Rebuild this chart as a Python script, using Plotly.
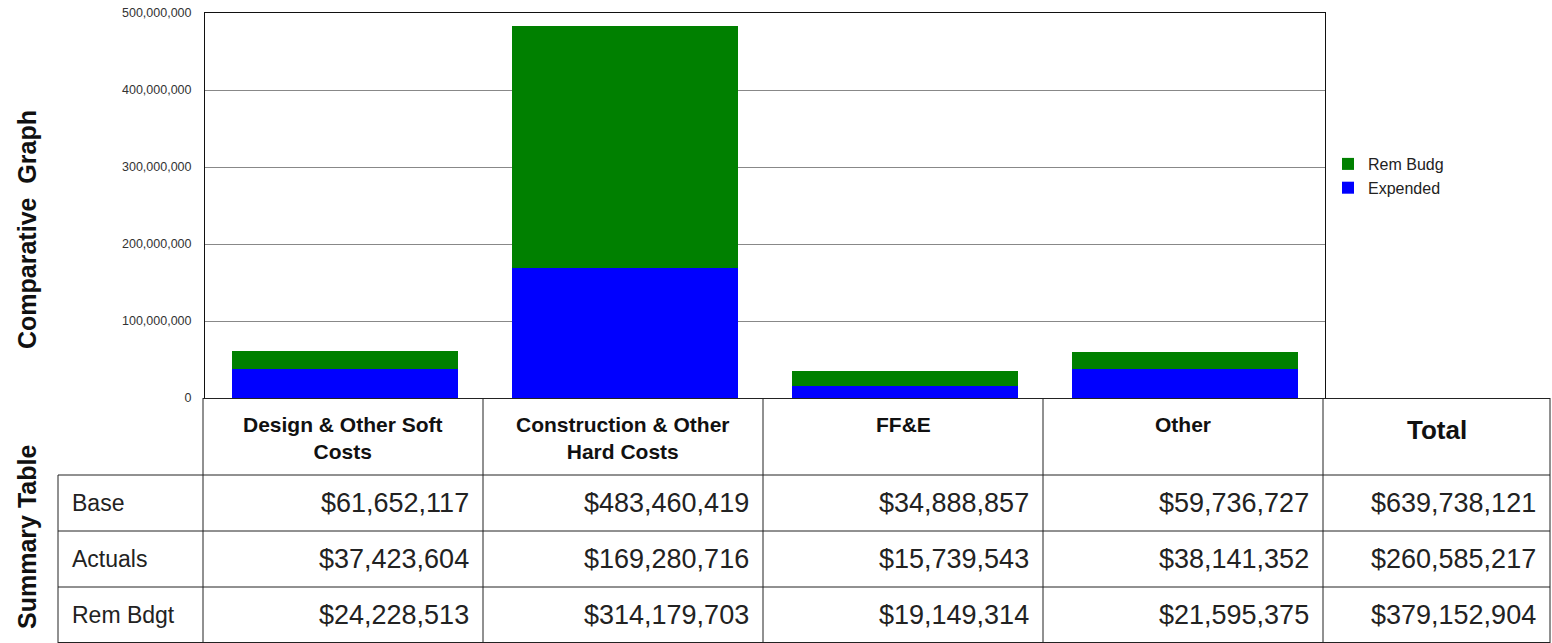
import plotly.graph_objects as go

categories = ["Design & Other Soft Costs", "Construction & Other Hard Costs", "FF&E", "Other"]
header_labels = ["Design & Other Soft<br>Costs", "Construction & Other<br>Hard Costs", "FF&E", "Other"]
base = [61652117, 483460419, 34888857, 59736727]
actuals = [37423604, 169280716, 15739543, 38141352]
rem_bdgt = [24228513, 314179703, 19149314, 21595375]
totals = [639738121, 260585217, 379152904]
row_labels = ["Base", "Actuals", "Rem Bdgt"]
y_ticks = [0, 100000000, 200000000, 300000000, 400000000, 500000000]

W, H = 1552, 643
FONT = "Liberation Sans, Arial, sans-serif"

def px(x):
    return x / W

def py(y):
    return 1 - y / H

fig = go.Figure()
fig.add_trace(go.Bar(x=categories, y=actuals, name="Expended", marker=dict(color="#0000FF", line=dict(width=0))))
fig.add_trace(go.Bar(x=categories, y=rem_bdgt, name="Rem Budg", marker=dict(color="#008000", line=dict(width=0))))

shapes = []
annotations = []

def line(x0, y0, x1, y1, color="#222222", w=1):
    shapes.append(dict(type="line", xref="paper", yref="paper",
                       x0=px(x0), y0=py(y0), x1=px(x1), y1=py(y1),
                       line=dict(color=color, width=w)))

col_edges = [203, 483, 763, 1043, 1323, 1550]
row_edges = [398, 475, 531, 587, 643]
label_left = 58

# table grid
line(203, 398.5, 1550, 398.5)
for ry in row_edges[1:4]:
    line(label_left, ry, 1550, ry)
line(label_left, 642.5, 1550, 642.5)
for cx in col_edges:
    line(cx, 398, cx, 643)
line(label_left, 475, label_left, 643)

# header text
for i, t in enumerate(header_labels):
    cx = (col_edges[i] + col_edges[i + 1]) / 2
    annotations.append(dict(xref="paper", yref="paper", x=px(cx), y=py(411),
                            text="<b>%s</b>" % t, showarrow=False, xanchor="center", yanchor="top",
                            font=dict(family=FONT, size=21, color="#111111")))
annotations.append(dict(xref="paper", yref="paper", x=px((col_edges[4] + col_edges[5]) / 2), y=py(430),
                        text="<b>Total</b>", showarrow=False, xanchor="center", yanchor="middle",
                        font=dict(family=FONT, size=26, color="#111111")))

# body
rows = [base, actuals, rem_bdgt]
for r, (lab, vals) in enumerate(zip(row_labels, rows)):
    cy = (row_edges[r + 1] + row_edges[r + 2]) / 2
    annotations.append(dict(xref="paper", yref="paper", x=px(70), y=py(cy), text=lab, showarrow=False,
                            xanchor="left", yanchor="middle", font=dict(family=FONT, size=23, color="#222222")))
    allvals = list(vals) + [totals[r]]
    for c, v in enumerate(allvals):
        annotations.append(dict(xref="paper", yref="paper", x=px(col_edges[c + 1] - 12), y=py(cy),
                                text="${:,}".format(v), showarrow=False, xanchor="right", yanchor="middle",
                                font=dict(family=FONT, size=27, color="#222222")))

# side titles
annotations.append(dict(xref="paper", yref="paper", x=px(27), y=py(230), text="<b>Comparative&nbsp; Graph</b>",
                        showarrow=False, textangle=-90, xanchor="center", yanchor="middle",
                        font=dict(family=FONT, size=25, color="#111111")))
annotations.append(dict(xref="paper", yref="paper", x=px(27), y=py(537), text="<b>Summary Table</b>",
                        showarrow=False, textangle=-90, xanchor="center", yanchor="middle",
                        font=dict(family=FONT, size=25, color="#111111")))

fig.update_layout(
    width=W, height=H,
    margin=dict(l=0, r=0, t=0, b=0, autoexpand=False),
    paper_bgcolor="white", plot_bgcolor="white",
    barmode="stack", bargap=0.19,
    font=dict(family=FONT),
    showlegend=True,
    legend=dict(x=px(1328), y=py(147), xanchor="left", yanchor="top", traceorder="reversed",
                font=dict(family=FONT, size=16, color="#222222"), bgcolor="rgba(0,0,0,0)",
                itemwidth=30, tracegroupgap=0),
    xaxis=dict(domain=[px(205), px(1325)], showticklabels=False, showline=True, linecolor="#111111",
               linewidth=1, mirror=True, showgrid=False, zeroline=False, fixedrange=True, automargin=False),
    yaxis=dict(domain=[py(398), py(13)], range=[0, 500000000], tickvals=y_ticks,
               ticktext=["{:,}".format(v) for v in y_ticks], showline=True, linecolor="#111111",
               linewidth=1, mirror=True, showgrid=True, gridcolor="#888888", gridwidth=1,
               zeroline=False, ticks="", ticklabelstandoff=10, automargin=False,
               tickfont=dict(family=FONT, size=12.5, color="#333333")),
    shapes=shapes,
    annotations=annotations,
)

fig.write_html("out.html", config={"displayModeBar": False},
               post_script="document.body.style.margin='0px';")
